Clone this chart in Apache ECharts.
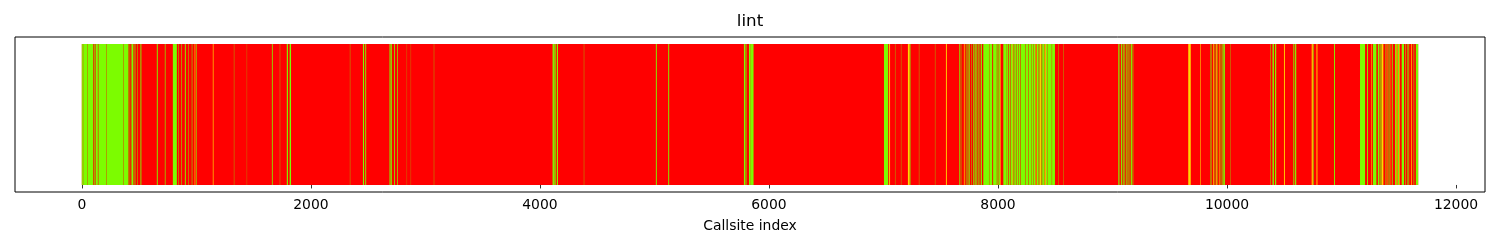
<!DOCTYPE html>
<html>
<head>
<meta charset="utf-8">
<script src="https://cdn.jsdelivr.net/npm/echarts@6/dist/echarts.min.js"></script>
<style>
html,body{margin:0;padding:0;background:#fff;}
#chart{width:1500px;height:250px;}
</style>
</head>
<body>
<div id="chart"></div>
<script>
// ---- data ----
const chartTitle = 'lint';
const xAxisName = 'Callsite index';
const totalCallsites = 11670;           // every callsite not listed below is "fail" (red)
const xTickValues = [0, 2000, 4000, 6000, 8000, 10000, 12000];
const xTickLabels = ['0', '2000', '4000', '6000', '8000', '10000', '12000'];
const statusColors = { fail: '#FF0000', pass: '#7CFC00', warn: '#FFD700' };

// runs of "pass" (green) callsites: start index and run length
const passStart = [0, 12, 52, 106, 120, 145, 217, 363, 408, 418, 428, 434, 455, 470, 485, 512, 655, 725, 795, 840,
  870, 900, 930, 960, 1000, 1328, 1441, 1660, 1729, 1790, 1815, 2341, 2455, 2475, 2687, 2697, 2728, 2754, 2838, 2873,
  3074, 4111, 4126, 4148, 4384, 5013, 5121, 5782, 5796, 5826, 5844, 7005, 7101, 7153, 7228, 7310, 7450,
  7663, 7675, 7720, 7735, 7750, 7765, 7785, 7800, 7812, 7828, 7840, 7852, 7872, 7925, 7958, 7995, 8005, 8047, 8080,
  8095, 8110, 8135, 8150, 8165, 8180, 8200, 8243, 8268, 8296, 8312, 8340, 8354, 8380, 8394, 8420, 8432, 8473,
  8527, 8570, 9051, 9062, 9075, 9090, 9105, 9118, 9132, 9150, 9163, 9176, 9852, 9865, 9893, 9918, 9945, 9958, 9968,
  10027, 10376, 10398, 10420, 10580, 10595, 10752, 10935, 11162, 11224, 11275, 11318, 11340, 11382, 11405, 11418,
  11442, 11468, 11490, 11526, 11558, 11572, 11585, 11630, 11650];
const passLength = [9, 38, 48, 6, 20, 70, 143, 41, 4, 3, 3, 16, 4, 3, 4, 8, 8, 6, 35, 4,
  5, 8, 4, 5, 5, 3, 2, 7, 3, 10, 12, 3, 10, 8, 8, 10, 7, 6, 2, 2,
  3, 12, 12, 10, 3, 8, 8, 10, 8, 16, 22, 37, 3, 3, 8, 3, 3,
  6, 5, 5, 8, 6, 4, 10, 6, 8, 5, 6, 8, 50, 25, 32, 8, 12, 30, 10,
  10, 20, 12, 12, 12, 16, 40, 22, 26, 14, 16, 12, 10, 12, 14, 10, 38, 25,
  3, 3, 6, 5, 8, 8, 6, 6, 8, 6, 8, 6, 4, 4, 5, 4, 6, 5, 14,
  3, 4, 12, 10, 8, 10, 5, 8, 44, 8, 30, 14, 10, 4, 5, 4,
  6, 10, 12, 20, 5, 5, 6, 5, 20];

// runs of "warn" (yellow) callsites
const warnStart = [985, 1144, 7050, 7214, 7546, 7703, 8020, 8125, 8330, 8366, 8410, 9662, 9765, 9880, 9905, 9930,
  10498, 10740, 10782, 11262, 11352, 11395, 11430, 11480, 11504, 11610];
const warnLength = [6, 6, 8, 14, 8, 6, 5, 4, 6, 10, 8, 22, 5, 6, 6, 5,
  8, 10, 8, 5, 14, 5, 4, 8, 6, 6];

// ---- build series rows: [start, length, status] ----
const rows = [[0, totalCallsites, 'fail']];
passStart.forEach((s, i) => rows.push([s, passLength[i], 'pass']));
warnStart.forEach((s, i) => rows.push([s, warnLength[i], 'warn']));

const margin = 0.05 * totalCallsites;
const xMin = -0.5 - margin;
const xMax = totalCallsites - 0.5 + margin;

const chart = echarts.init(document.getElementById('chart'), null, { renderer: 'canvas' });
const font = 'DejaVu Sans';
chart.setOption({
  animation: false,
  backgroundColor: '#ffffff',
  title: {
    text: chartTitle, left: 'center', top: 13, padding: 0,
    textStyle: { fontFamily: font, fontSize: 16.7, fontWeight: 'normal', color: '#000' }
  },
  grid: {
    left: 15, right: 15, top: 37, bottom: 58,
    show: true, borderColor: '#000', borderWidth: 1, backgroundColor: 'transparent'
  },
  xAxis: {
    type: 'value', min: xMin, max: xMax,
    name: xAxisName, nameLocation: 'middle', nameGap: 27,
    nameTextStyle: { fontFamily: font, fontSize: 13.9, color: '#000' },
    axisLine: { show: false },
    splitLine: { show: false },
    axisTick: { show: true, inside: false, length: 3.5, customValues: xTickValues,
      lineStyle: { color: '#000', width: 0.8 } },
    axisLabel: { show: true, margin: 6, customValues: xTickValues,
      formatter: v => xTickLabels[xTickValues.indexOf(v)] ?? String(v),
      fontFamily: font, fontSize: 13.9, color: '#000' }
  },
  yAxis: {
    type: 'value', min: -0.05, max: 1.05,
    axisLine: { show: false }, axisTick: { show: false }, axisLabel: { show: false }, splitLine: { show: false }
  },
  series: [{
    type: 'custom',
    data: rows,
    encode: { x: 0 },
    clip: true,
    renderItem: function (params, api) {
      const start = api.value(0), len = api.value(1);
      const status = rows[params.dataIndex][2];
      const p0 = api.coord([start - 0.5, 1]);
      const p1 = api.coord([start - 0.5 + len, 0]);
      return {
        type: 'rect',
        shape: { x: p0[0], y: p0[1], width: p1[0] - p0[0], height: p1[1] - p0[1] },
        style: { fill: statusColors[status] }
      };
    }
  }]
});
</script>
</body>
</html>
